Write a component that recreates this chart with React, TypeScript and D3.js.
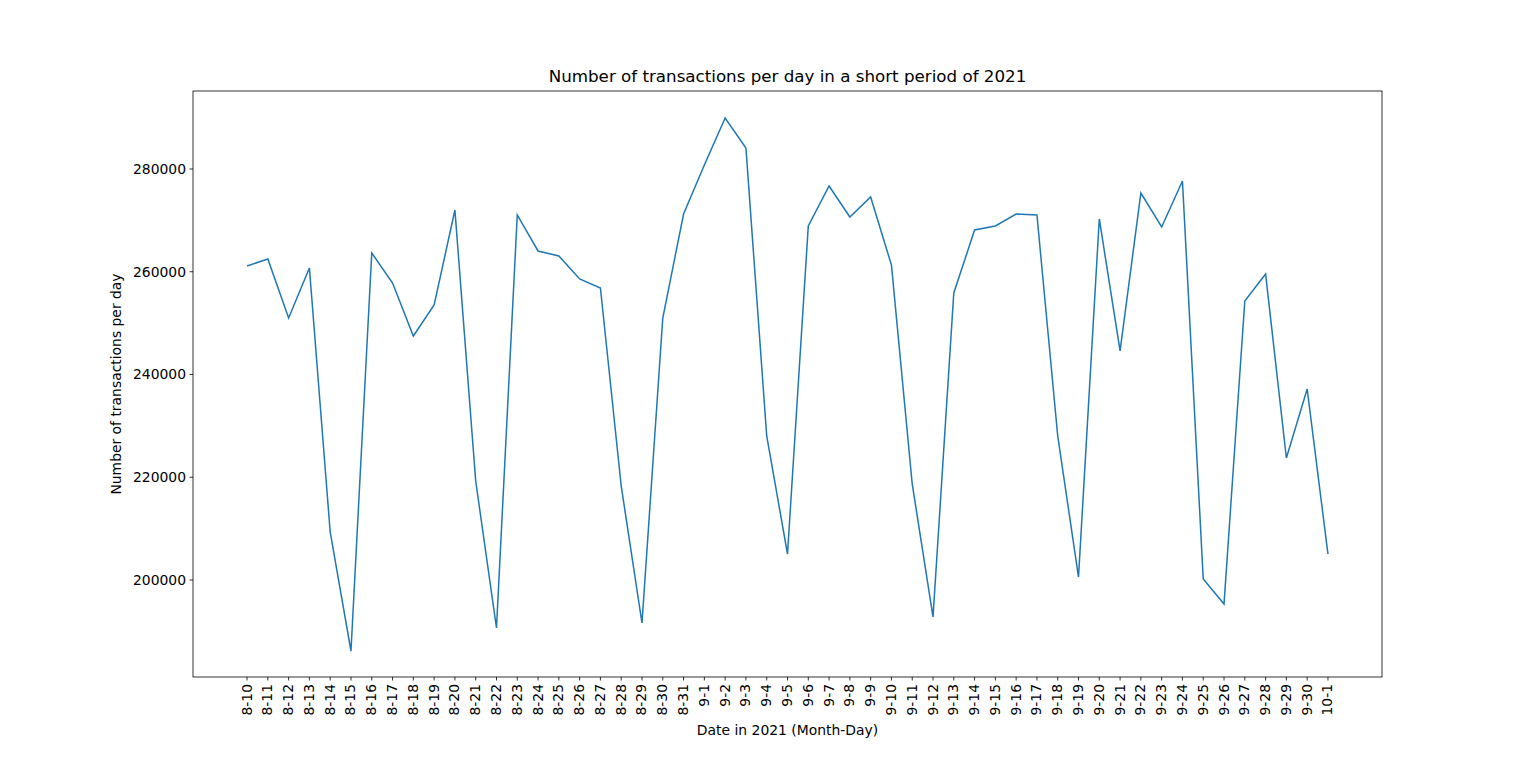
import { useEffect, useRef } from "react";
import * as d3 from "d3";

const dates = [
  "8-10","8-11","8-12","8-13","8-14","8-15","8-16","8-17","8-18","8-19","8-20","8-21","8-22","8-23","8-24","8-25","8-26","8-27","8-28","8-29","8-30","8-31",
  "9-1","9-2","9-3","9-4","9-5","9-6","9-7","9-8","9-9","9-10","9-11","9-12","9-13","9-14","9-15","9-16","9-17","9-18","9-19","9-20","9-21","9-22","9-23","9-24","9-25","9-26","9-27","9-28","9-29","9-30","10-1",
];
const counts = [
  261120, 262480, 251000, 260730, 209340, 186180, 263650, 257810, 247490, 253530, 272020, 219270, 190660, 271050, 264040, 263070, 258590, 256840, 218300, 191630, 251000, 271240,
  280780, 289930, 284090, 228030, 205060, 268900, 276690, 270660, 274550, 261310, 218690, 192800, 255860, 268130, 268900, 271240, 271050, 228030, 200580, 270270, 244580, 275330, 268710, 277670, 200190, 195330, 254310, 259560, 223750, 237180, 205060,
];
const yTicks = [200000, 220000, 240000, 260000, 280000];

const W = 1536, H = 761;
const margin = { top: 91, right: 154, bottom: 84, left: 193 };

const App = () => {
  const ref = useRef<SVGSVGElement | null>(null);

  useEffect(() => {
    if (!ref.current) return;
    const svg = d3.select(ref.current);
    svg.selectAll("*").remove();
    const iw = W - margin.left - margin.right;
    const ih = H - margin.top - margin.bottom;
    const pad = (dates.length - 1) * 0.05;
    const x = d3.scaleLinear().domain([-pad, dates.length - 1 + pad]).range([0, iw]);
    const y = d3.scaleLinear().domain([181119, 295182]).range([ih, 0]);
    const g = svg.append("g").attr("transform", `translate(${margin.left},${margin.top})`);
    const font = "DejaVu Sans, sans-serif";

    g.append("path")
      .datum(counts)
      .attr("fill", "none")
      .attr("stroke", "#1f77b4")
      .attr("stroke-width", 1.5)
      .attr("d", d3.line<number>().x((_, i) => x(i)).y((d) => y(d)));

    g.append("rect").attr("width", iw).attr("height", ih).attr("fill", "none").attr("stroke", "#000").attr("stroke-width", 0.8);

    dates.forEach((d, i) => {
      const px = x(i);
      g.append("line").attr("x1", px).attr("x2", px).attr("y1", ih).attr("y2", ih + 3.5).attr("stroke", "#000").attr("stroke-width", 0.8);
      g.append("text")
        .attr("transform", `translate(${px + 4.5},${ih + 7}) rotate(-90)`)
        .attr("text-anchor", "end")
        .attr("font-family", font)
        .attr("font-size", 13.9)
        .text(d);
    });

    yTicks.forEach((t) => {
      const py = y(t);
      g.append("line").attr("x1", -3.5).attr("x2", 0).attr("y1", py).attr("y2", py).attr("stroke", "#000").attr("stroke-width", 0.8);
      g.append("text")
        .attr("x", -7).attr("y", py).attr("dy", "0.35em")
        .attr("text-anchor", "end").attr("font-family", font).attr("font-size", 13.9)
        .text(String(t));
    });

    svg.append("text").attr("x", margin.left + iw / 2).attr("y", 82).attr("text-anchor", "middle")
      .attr("font-family", font).attr("font-size", 16.7).text("Number of transactions per day in a short period of 2021");
    svg.append("text").attr("x", margin.left + iw / 2).attr("y", 735).attr("text-anchor", "middle")
      .attr("font-family", font).attr("font-size", 13.9).text("Date in 2021 (Month-Day)");
    svg.append("text").attr("transform", `translate(121,${margin.top + ih / 2}) rotate(-90)`).attr("text-anchor", "middle")
      .attr("font-family", font).attr("font-size", 13.9).text("Number of transactions per day");
  }, []);

  return (
    <svg ref={ref} width={W} height={H} style={{ position: "absolute", left: 0, top: 0, background: "#fff" }} />
  );
};

export default App;
